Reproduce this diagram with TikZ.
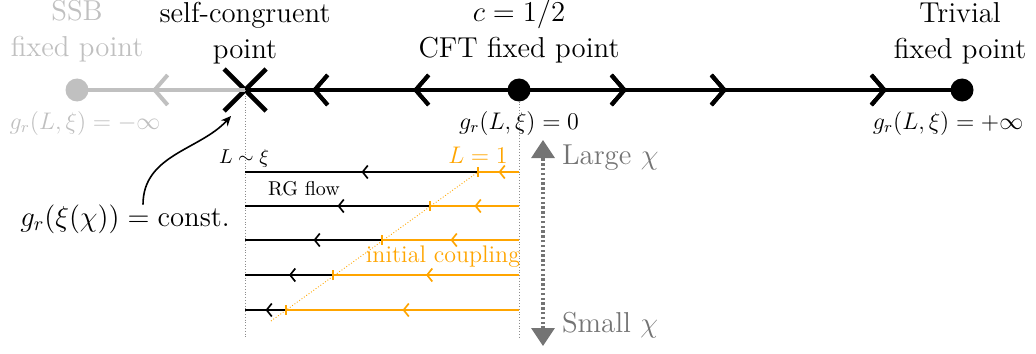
\documentclass[tikz,border=0pt]{standalone}
\usepackage{amsmath,amssymb}
\usetikzlibrary{arrows.meta,decorations.markings,shapes.misc}
\definecolor{FlowInk}{gray}{0}
\definecolor{FlowFaded}{HTML}{C0C0C0}
\definecolor{FlowMuted}{HTML}{747474}
\definecolor{FlowGuide}{HTML}{8C8C8C}
\definecolor{FlowOrange}{HTML}{FFA500}
\tikzset{
    flow/diagram/.style={
        line cap=butt,
        line join=miter,
        >=Stealth,
        every node/.style={inner sep=0pt, outer sep=0pt}
    },
    flow/axis/.style={draw=FlowInk, line width=2pt},
    flow/faded/.style={draw=FlowFaded, line width=2pt},
    flow/fixed/.style={circle, fill=FlowInk, draw=none, minimum size=11.5pt},
    flow/cross/.style={cross out, draw=FlowInk, line width=2.3pt, minimum size=21pt},
    flow/chevron/.style={
        postaction={decorate},
        decoration={markings, mark=at position #1 with {
            \arrow{Straight Barb[length=6.5pt, width=15pt, line width=2pt]}}}
    },
    flow/small chevron/.style={
        postaction={decorate},
        decoration={markings, mark=at position #1 with {
            \arrow{Straight Barb[length=2.6pt, width=6.5pt, line width=0.85pt]}}}
    },
    flow/guide/.style={draw=FlowGuide, line width=0.4pt, densely dotted},
    flow/rg/.style={draw=FlowInk, line width=0.85pt},
    flow/bare/.style={draw=FlowOrange, line width=0.85pt},
    flow/tick/.style={draw=FlowOrange, line width=0.85pt},
    flow/initial/.style={draw=FlowOrange, line width=0.45pt, densely dotted},
    flow/scale/.style={
        draw=FlowMuted, line width=1.6pt, dash pattern=on 1.2pt off 1.2pt,
        {Triangle[length=9pt, width=11.5pt]}-{Triangle[length=9pt, width=11.5pt]}
    },
    flow/pointer/.style={draw=FlowInk, line width=0.8pt, -{Stealth[length=5pt, width=4.5pt]}},
    flow/title/.style={font=\Large, align=center},
    flow/value/.style={font=\large}
}

\begin{document}
\begin{tikzpicture}[flow/diagram, x=0.5pt, y=-0.5pt]
    \useasboundingbox (0,0) rectangle (1036,353);
    % fixed points on the coupling line
    \node[flow/fixed, fill=FlowFaded] (ssb) at (77,90) {};
    \node[flow/cross] (cross) at (245,90) {};
    \node[flow/fixed] (cft) at (519,90) {};
    \node[flow/fixed] (triv) at (962,90) {};
    \draw[flow/faded, flow/chevron=46.5pt] (cross.center) -- (ssb.center);
    \draw[flow/axis, flow/chevron=53pt, flow/chevron=103.5pt] (cft.center) -- (cross.center);
    \draw[flow/axis, flow/chevron=54pt, flow/chevron=104pt, flow/chevron=184pt]
        (cft.center) -- (triv.center);
    \node[flow/title, text=FlowFaded] (ssb-name) at (77,31) {SSB\\fixed point};
    \node[flow/title] (cross-name) at (245,33) {self-congruent\\point};
    \node[flow/title] (cft-name) at (519,31) {$c=1/2$\\CFT fixed point};
    \node[flow/title] (triv-name) at (960,33) {Trivial\\fixed point};
    \node[flow/value, text=FlowFaded] (ssb-g) at (85,123) {$g_r(L,\xi)=-\infty$};
    \node[flow/value] (cft-g) at (519,123) {$g_r(L,\xi)=0$};
    \node[flow/value] (triv-g) at (948,123) {$g_r(L,\xi)=+\infty$};
    % RG flows at fixed chi
    \coordinate (left-end) at (245,337);
    \coordinate (right-end) at (519,337);
    \draw[flow/guide] (cross.center) -- (left-end);
    \draw[flow/guide] (cft.south) -- (right-end);
    \foreach \i/\y/\t in {1/172/478, 2/206/430, 3/240/382, 4/275/333, 5/310/286} {
        \coordinate (in-\i) at (519,\y);
        \coordinate (cut-\i) at (\t,\y);
        \coordinate (out-\i) at (245,\y);
        \draw[flow/bare, flow/small chevron=0.5] (in-\i) -- (cut-\i);
        \draw[flow/rg, flow/small chevron=0.5] (cut-\i) -- (out-\i);
        \draw[flow/tick] ([yshift=-2.6pt]cut-\i) -- ([yshift=2.6pt]cut-\i);
    }
    \coordinate (diag-start) at (271,321);
    \draw[flow/initial] (diag-start) -- (cut-1);
    \node[font=\normalsize] (l-xi) at (244,158) {$L\sim\xi$};
    \node[font=\large, text=FlowOrange] (l-one) at (478,155) {$L=1$};
    \node[font=\normalsize] (rg-name) at (304,189) {RG flow};
    \node[font=\large, text=FlowOrange] (init-name) at (443,257) {initial coupling};
    % bond dimension
    \coordinate (chi-top) at (543,140);
    \coordinate (chi-bot) at (543,346);
    \draw[flow/scale] (chi-bot) -- (chi-top);
    \node[font=\Large, text=FlowMuted, anchor=west] (chi-large) at (562,158) {Large $\chi$};
    \node[font=\Large, text=FlowMuted, anchor=west] (chi-small) at (562,325) {Small $\chi$};
    % constant coupling
    \node[font=\Large] (gconst) at (125,219) {$g_r(\xi(\chi))=\text{const.}$};
    \coordinate (tip) at (231,116);
    \draw[flow/pointer] ([xshift=9pt]gconst.north) .. controls +(0,-50) and (200,150) .. (tip);
\end{tikzpicture}
\end{document}
